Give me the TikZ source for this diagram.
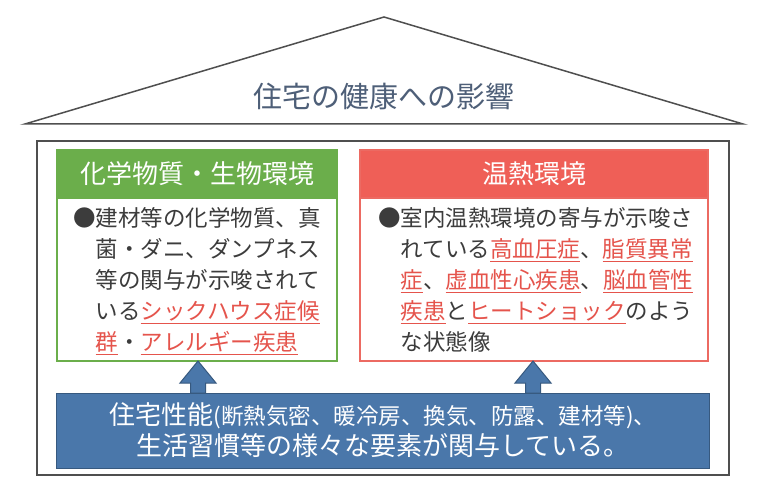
\documentclass[tikz,border=0pt]{standalone}
\usepackage{fontspec}
\setmainfont{Noto Sans CJK JP}
\usetikzlibrary{calc}
\definecolor{txt}{HTML}{3C3C3C}
\definecolor{ured}{HTML}{E5544C}
\definecolor{grn}{HTML}{6BAE4B}
\definecolor{rd}{HTML}{EF5F57}
\definecolor{rdline}{HTML}{EC6A62}
\definecolor{blu}{HTML}{4A77AA}
\definecolor{bludark}{HTML}{37597F}
\definecolor{ttl}{HTML}{4E5F78}
\definecolor{framecol}{HTML}{4F4F4F}
\newsavebox\myulbox
\newcommand\rul[1]{\textcolor{ured}{\sbox\myulbox{#1}\rlap{\rule[-5pt]{\wd\myulbox}{1.1pt}}\usebox\myulbox}}
\tikzset{
  roofline/.style={draw=framecol, line width=1.5pt, line join=miter},
  titletxt/.style={inner sep=0pt, text=ttl, font=\fontsize{29}{29}\selectfont},
  framebox/.style={draw=framecol, line width=2pt, rectangle, inner sep=0pt, outer sep=0pt},
  gbox/.style={draw=grn, line width=2pt, fill=white, rectangle, inner sep=0pt, outer sep=0pt},
  ghead/.style={draw=grn, line width=2pt, fill=grn, rectangle, inner sep=0pt, outer sep=0pt, text=white, font=\fontsize{26}{26}\selectfont},
  rbox/.style={draw=rdline, line width=2pt, fill=white, rectangle, inner sep=0pt, outer sep=0pt},
  rhead/.style={draw=rdline, line width=2pt, fill=rd, rectangle, inner sep=0pt, outer sep=0pt, text=white, font=\fontsize{26}{26}\selectfont},
  bbox/.style={draw=bludark, line width=1pt, fill=blu, rectangle, inner sep=0pt, outer sep=0pt},
  btxt/.style={anchor=base, inner sep=0pt, text=white},
  bodytxt/.style={anchor=base west, inner sep=0pt, text=txt, font=\fontsize{22.5}{27}\selectfont},
  blockarr/.style={fill=blu, draw=bludark, line width=1pt, line join=miter}
}
\begin{document}
\begin{tikzpicture}[x=1pt,y=-1pt]
\useasboundingbox (0,0) rectangle (768,492);
\fill[white] (0,0) rectangle (768,492);
% roof
\coordinate (rl) at (25,124);
\coordinate (rt) at (384,17);
\coordinate (rr) at (743,124);
\draw[roofline] (rl) -- (rt) -- (rr) -- cycle;
\node[titletxt] (title) at (384,97) {住宅の健康への影響};
% frame
\node[framebox, minimum width=692pt, minimum height=334pt] (frame) at (383,308) {};
% green
\node[gbox, minimum width=280pt, minimum height=211pt] (gbox) at (197,255.5) {};
\node[ghead, minimum width=280pt, minimum height=48pt] (ghead) at (197,174) {化学物質・生物環境};
% red
\node[rbox, minimum width=348pt, minimum height=211pt] (rbox) at (534,255.5) {};
\node[rhead, minimum width=348pt, minimum height=48pt] (rhead) at (534,174) {温熱環境};
% blue
\node[bbox, minimum width=653pt, minimum height=75pt] (bbox) at (382.5,430.5) {};
% arrows
\coordinate (ax1) at (198,0);
\coordinate (ax2) at (533,0);
\filldraw[blockarr] (gbox.south -| ax1) coordinate (t1) -- ++(18,22) -- ++(-10.5,0)
   -- ($(bbox.north -| ax1)+(7.5,0)$) -- ($(bbox.north -| ax1)+(-7.5,0)$)
   |- ($(t1)+(-18,22)$) -- cycle;
\filldraw[blockarr] (rbox.south -| ax2) coordinate (t2) -- ++(18,22) -- ++(-10.5,0)
   -- ($(bbox.north -| ax2)+(7.5,0)$) -- ($(bbox.north -| ax2)+(-7.5,0)$)
   |- ($(t2)+(-18,22)$) -- cycle;
% green body
\node[bodytxt] (g1) at (73,226) {●建材等の化学物質、真};
\node[bodytxt] (g2) at (95.5,257) {菌・ダニ、ダンプネス};
\node[bodytxt] (g3) at (95.5,288) {等の関与が示唆されて};
\node[bodytxt] (g4) at (95.5,319) {いる\rul{シックハウス症候}};
\node[bodytxt] (g5) at (95.5,350) {\rul{群}・\rul{アレルギー疾患}};
% red body
\node[bodytxt] (r1) at (378,226) {●室内温熱環境の寄与が示唆さ};
\node[bodytxt] (r2) at (400.5,257) {れている\rul{高血圧症}、\rul{脂質異常}};
\node[bodytxt] (r3) at (400.5,288) {\rul{症}、\rul{虚血性心疾患}、\rul{脳血管性}};
\node[bodytxt] (r4) at (400.5,319) {\rul{疾患}と\rul{ヒートショック}のよう};
\node[bodytxt] (r5) at (400.5,350) {な状態像};
% blue text
\node[btxt] (b1) at (383,424) {{\fontsize{26}{26}\selectfont 住宅性能}{\fontsize{22.5}{22.5}\selectfont (断熱気密、暖冷房、換気、防露、建材等)、}};
\node[btxt] (b2) at (383,455) {\fontsize{26}{26}\selectfont 生活習慣等の様々な要素が関与している。};
\end{tikzpicture}
\end{document}
